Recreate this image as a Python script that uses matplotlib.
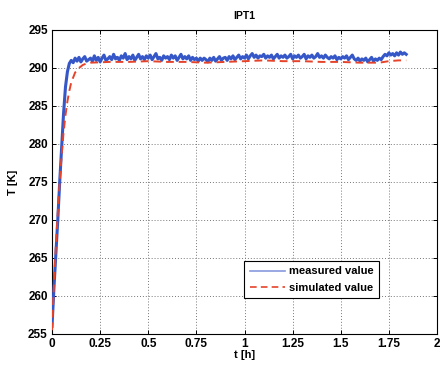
import matplotlib
matplotlib.use("Agg")
import matplotlib.pyplot as plt
import numpy as np

# ---- data ----
t_rise = [0.00, 0.01, 0.02, 0.03, 0.04, 0.05, 0.06, 0.07, 0.08, 0.09]
meas_rise = [256.0, 261.0, 265.5, 270.0, 275.0, 279.5, 284.0, 287.5, 289.5, 290.6]

t_steady_start = 0.10
t_steady_step = 0.01
meas_steady = [
    291.0, 290.7, 291.3, 290.9, 291.4, 290.8, 291.2, 291.5, 290.9, 291.1,
    291.3, 290.9, 291.6, 291.0, 291.4, 290.8, 291.3, 291.7, 291.0, 291.2,
    291.5, 291.1, 291.8, 291.2, 291.4, 291.0, 291.6, 291.3, 291.9, 291.1,
    291.5, 291.2, 291.7, 291.0, 291.4, 291.8, 291.2, 291.5, 291.1, 291.6,
    291.3, 291.7, 291.1, 291.5, 291.9, 291.2, 291.4, 291.0, 291.6, 291.3,
    291.5, 291.1, 291.7, 291.3, 291.6, 291.0, 291.4, 291.8, 291.2, 291.5,
    291.2, 291.6, 291.0, 291.4, 291.1, 291.3, 290.9, 291.3, 291.0, 291.3,
    291.1, 290.8, 291.3, 291.0, 291.4, 290.9, 291.2, 291.5, 291.0, 291.3,
    291.4, 291.0, 291.5, 291.2, 291.6, 291.1, 291.4, 291.7, 291.2, 291.5,
    291.3, 291.7, 291.2, 291.6, 291.9, 291.4, 291.7, 291.3, 291.6, 291.5,
    291.8, 291.3, 291.6, 291.4, 291.7, 291.2, 291.5, 291.8, 291.3, 291.6,
    291.4, 291.7, 291.3, 291.5, 291.8, 291.2, 291.6, 291.4, 291.7, 291.3,
    291.5, 291.8, 291.2, 291.6, 291.4, 291.7, 291.3, 291.5, 291.9, 291.4,
    291.6, 291.3, 291.7, 291.4, 291.2, 291.5, 291.3, 291.6, 291.1, 291.4,
    291.2, 291.5, 291.3, 291.6, 291.1, 291.4, 291.7, 291.2, 291.0, 291.3,
    290.9, 291.2, 291.0, 291.3, 290.8, 291.1, 291.4, 290.9, 291.2, 291.0,
    291.3, 291.1, 291.5, 291.8, 291.6, 292.0, 291.7, 291.9, 291.6, 292.0,
    291.7, 292.1, 291.8, 292.0, 291.8,
]

t_sim = [0.00, 0.01, 0.02, 0.03, 0.04, 0.05, 0.06, 0.07, 0.08, 0.09, 0.10,
         0.12, 0.14, 0.16, 0.18, 0.20, 0.30, 0.40, 0.50, 0.60, 0.70, 0.80,
         0.90, 1.00, 1.10, 1.20, 1.30, 1.40, 1.50, 1.60, 1.70, 1.75, 1.80, 1.84]
sim_vals = [255.5, 261.5, 266.5, 271.0, 275.2, 278.5, 281.5, 283.8, 285.6, 287.0, 288.1,
            289.4, 290.0, 290.4, 290.6, 290.7, 290.8, 290.8, 290.9, 290.8, 290.8, 290.7,
            290.8, 290.9, 291.0, 290.9, 290.9, 290.8, 290.8, 290.7, 290.7, 290.9, 291.0, 291.0]

x_ticks = [0, 0.25, 0.5, 0.75, 1, 1.25, 1.5, 1.75, 2]
x_tick_labels = ["0", "0.25", "0.5", "0.75", "1", "1.25", "1.5", "1.75", "2"]
y_ticks = [255, 260, 265, 270, 275, 280, 285, 290, 295]

t_meas = t_rise + [t_steady_start + i * t_steady_step for i in range(len(meas_steady))]
meas_vals = meas_rise + meas_steady

# ---- plot ----
plt.rcParams['font.family'] = ['Liberation Sans', 'DejaVu Sans']
fig = plt.figure(figsize=(4.4, 3.67), dpi=100)
ax = fig.add_axes([52/440, 1 - 334/367, (437-52)/440, (334-30)/367])

ax.plot(t_meas, meas_vals, color='#3557c8', lw=2.2, label='measured value', zorder=3)
ax.plot(t_sim, sim_vals, color='#e5432a', lw=1.4, ls=(0, (4, 2.5)), label='simulated value', zorder=4)

ax.set_xlim(0, 2)
ax.set_ylim(255, 295)
ax.set_xticks(x_ticks)
ax.set_xticklabels(x_tick_labels)
ax.set_yticks(y_ticks)
ax.grid(True, ls=(0, (1, 2)), color='#777777', lw=0.7)
ax.tick_params(direction='in', top=True, right=True, length=3, labelsize=8.5, width=0.7, pad=3)
for lbl in ax.get_xticklabels() + ax.get_yticklabels():
    lbl.set_fontweight('bold')
for s in ax.spines.values():
    s.set_linewidth(0.8)

ax.set_title('IPT1', fontsize=7.5, fontweight='bold', pad=8)
ax.set_xlabel('t [h]', fontsize=8, fontweight='bold', labelpad=0)
ax.set_ylabel('T [K]', fontsize=8, fontweight='bold', labelpad=7)

leg = ax.legend(loc='lower left', bbox_to_anchor=(0.499, 0.118), borderaxespad=0,
                fancybox=False, edgecolor='black', framealpha=1,
                prop={'size': 8, 'weight': 'bold'}, handlelength=3.2,
                borderpad=0.5, labelspacing=0.55, handletextpad=0.3)
leg.get_frame().set_linewidth(0.8)
for line in leg.get_lines():
    line.set_linewidth(1.2)
leg.get_lines()[0].set_color('#8899dd')

fig.savefig('out.png', dpi=100, facecolor='white')
